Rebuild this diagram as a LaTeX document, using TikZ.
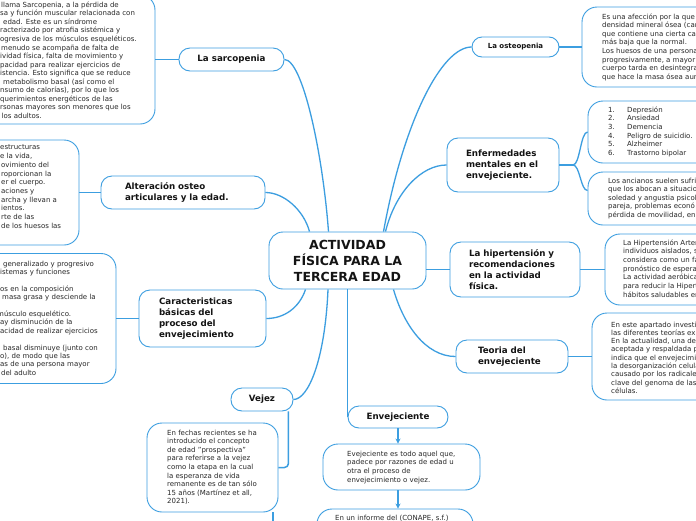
\documentclass[tikz,border=0pt]{standalone}
\usepackage{fontspec}
\setmainfont{DejaVu Sans}
\usetikzlibrary{arrows.meta}
\definecolor{mmblue}{RGB}{60,158,224}
\definecolor{mmtext}{RGB}{20,20,20}
\definecolor{mmsmall}{RGB}{40,40,40}
\begin{document}
\begin{tikzpicture}[x=1pt,y=-1pt,
  mnode/.style={draw=mmblue, line width=0.9pt, rounded corners=11pt, fill=white, text=mmtext, font=\bfseries\fontsize{8.7}{11}\selectfont, inner sep=0pt},
  tbox/.style={draw=mmblue, line width=0.9pt, rounded corners=15pt, fill=white, inner sep=0pt},
  ttext/.style={anchor=north west, inner sep=0pt, align=left, text=mmsmall},
  conn/.style={draw=mmblue, line width=1.3pt},
  link/.style={draw=mmblue, line width=1.8pt},
  arr/.style={draw=mmblue, line width=1.2pt, -{Stealth[length=5pt,width=5pt]}},
]
\useasboundingbox (0,0) rectangle (696,520);
\clip (0,0) rectangle (696,520);
\fill[white] (0,0) rectangle (696,520);

% ---------- text boxes ----------
\node[tbox, minimum width=275pt, minimum height=129pt] (sarcB) at (17.5,59.5) {};
\node[tbox, minimum width=199pt, minimum height=105pt] (altB) at (-20.5,192.5) {};
\node[tbox, minimum width=236pt, minimum height=130pt] (caracB) at (-2,318.5) {};
\node[tbox, minimum width=131pt, minimum height=89pt] (vejezB) at (212.5,467.5) {};
\node[tbox, minimum width=157pt, minimum height=46pt] (envB) at (401.5,467) {};
\node[tbox, minimum width=156pt, minimum height=51pt] (env2B) at (395,534.5) {};
\node[tbox, minimum width=198pt, minimum height=80pt] (osteoB) at (681,47) {};
\node[tbox, minimum width=192pt, minimum height=62pt] (enf1B) at (684,132) {};
\node[tbox, minimum width=192pt, minimum height=53pt] (enf2B) at (684,198.5) {};
\node[tbox, minimum width=175pt, minimum height=71pt] (hipB) at (692.5,269.5) {};
\node[tbox, minimum width=188pt, minimum height=87pt] (teoB) at (686,356.5) {};

% ---------- texts in the boxes ----------
\node[ttext, font=\fontsize{7}{8.54}\selectfont] (sarcT) at (0,1.5) {%
\hspace*{1pt}llama Sarcopenia, a la pérdida de\\
sa y función muscular relacionada con\\
\hspace*{3pt}edad. Este es un síndrome\\
racterizado por atrofia sistémica y\\
ogresiva de los músculos esqueléticos.\\
\hspace*{1pt}menudo se acompaña de falta de\\
ividad física, falta de movimiento y\\
pacidad para realizar ejercicios de\\
istencia. Esto significa que se reduce\\
\hspace*{3pt}metabolismo basal (así como el\\
nsumo de calorías), por lo que los\\
querimientos energéticos de las\\
rsonas mayores son menores que los\\
\hspace*{1.5pt}los adultos.};

\node[ttext, font=\fontsize{7}{8.7}\selectfont] (altT) at (0,144.8) {%
estructuras\\
e la vida,\\
\hspace*{1pt}ovimiento del\\
\hspace*{1pt}roporcionan la\\
\hspace*{1pt}er el cuerpo.\\
\hspace*{1pt}aciones y\\
\hspace*{1pt}archa y llevan a\\
\hspace*{1pt}ientos.\\
\hspace*{1pt}rte de las\\
\hspace*{1pt}de los huesos las};

\node[ttext, font=\fontsize{7}{8.4}\selectfont] (caracT) at (0,260.5) {%
\hspace*{3pt}generalizado y progresivo\\
istemas y funciones\\
~\\
os en la composición\\
\hspace*{2pt}masa grasa y desciende la\\
~\\
\hspace*{-3pt}músculo esquelético.\\
ay disminución de la\\
acidad de realizar ejercicios\\
~\\
\hspace*{3pt}basal disminuye (junto con\\
o), de modo que las\\
as de una persona mayor\\
\hspace*{1pt}del adulto};

\node[ttext, font=\fontsize{7}{8.6}\selectfont] (vejezT) at (167,429.5) {%
En fechas recientes se ha\\
introducido el concepto\\
de edad "prospectiva"\\
para referirse a la vejez\\
como la etapa en la cual\\
la esperanza de vida\\
remanente es de tan sólo\\
15 años (Martínez et all,\\
2021).};

\node[ttext, font=\fontsize{7}{8.7}\selectfont] (envT) at (347,450.5) {%
Evejeciente es todo aquel que,\\
padece por razones de edad u\\
otra el proceso de\\
envejecimiento o vejez.};

\node[ttext, font=\fontsize{7}{8.7}\selectfont] (env2T) at (335,514.5) {En un informe del (CONAPE, s.f.)};

\node[ttext, font=\fontsize{7}{8.6}\selectfont] (osteoT) at (602,13.2) {%
Es una afección por la que\\
densidad mineral ósea (car\\
que contiene una cierta car\\
más baja que la normal.\\
Los huesos de una persona\\
progresivamente, a mayor\\
cuerpo tarda en desintegra\\
que hace la masa ósea aur};

\node[ttext, font=\fontsize{7}{8.6}\selectfont] (enf1T) at (608,106.5) {%
\makebox[19pt][l]{1.}Depresión\\
\makebox[19pt][l]{2.}Ansiedad\\
\makebox[19pt][l]{3.}Demencia\\
\makebox[19pt][l]{4.}Peligro de suicidio.\\
\makebox[19pt][l]{5.}Alzheimer\\
\makebox[19pt][l]{6.}Trastorno bipolar};

\node[ttext, font=\fontsize{7}{8.5}\selectfont] (enf2T) at (608,177.5) {%
Los ancianos suelen sufri\\
que los abocan a situacio\\
soledad y angustia psicol\\
pareja, problemas econó\\
pérdida de movilidad, en};

\node[ttext, font=\fontsize{7}{8.65}\selectfont] (hipT) at (623,239.5) {%
La Hipertensión Arter\\
individuos aislados, s\\
considera como un fa\\
pronóstico de espera\\
La actividad aeróbica\\
para reducir la Hipert\\
hábitos saludables en};

\node[ttext, font=\fontsize{7}{8.3}\selectfont] (teoT) at (611,321.5) {%
En este apartado investi\\
las diferentes teorías exi\\
En la actualidad, una de\\
aceptada y respaldada p\\
indica que el envejecimie\\
la desorganización celula\\
causado por los radicale\\
clave del genoma de las\\
células.};

% ---------- topic nodes ----------
\node[mnode, minimum width=157pt, minimum height=57pt, rounded corners=14pt, align=center,
      font=\bfseries\fontsize{12.5}{16}\selectfont] (cen) at (347.5,260.5)
      {ACTIVIDAD\\FÍSICA PARA LA\\TERCERA EDAD};
\node[mnode, minimum width=105pt, minimum height=23pt] (sarc) at (231.5,59.5) {La sarcopenia};
\node[mnode, minimum width=164pt, minimum height=33pt, text width=116pt, align=left] (alt) at (183,192.5)
      {Alteración osteo\\articulares y la edad.};
\node[mnode, minimum width=127pt, minimum height=57pt, text width=87pt, align=left] (carac) at (202.5,318.5)
      {Caracteristicas\\básicas del\\proceso del\\envejecimiento};
\node[mnode, minimum width=62pt, minimum height=23pt] (vejez) at (262,399.5) {Vejez};
\node[mnode, minimum width=100pt, minimum height=22pt] (env) at (398,417) {Envejeciente};
\node[mnode, minimum width=112pt, minimum height=33pt, text width=68pt, align=left] (teo) at (512,356.5)
      {Teoria del\\envejeciente};
\node[mnode, minimum width=130pt, minimum height=55pt, text width=92pt, align=left] (hip) at (515,269.5)
      {La hipertensión y\\recomendaciones\\en la actividad\\física.};
\node[mnode, minimum width=112pt, minimum height=54pt, text width=74pt, align=left] (enf) at (503,165)
      {Enfermedades\\mentales en el\\envejeciente.};
\node[mnode, minimum width=87pt, minimum height=20pt, rounded corners=10pt,
      font=\bfseries\fontsize{7}{9}\selectfont] (osteo) at (515.5,47) {La osteopenia};

% ---------- connectors from the centre ----------
\draw[conn] ([xshift=-19pt]cen.north) .. controls +(-6,-80) and +(18,0) .. (sarc.east);
\draw[conn] ([xshift=-38pt]cen.north) .. controls +(-6,-22) and +(18,0) .. (alt.east);
\draw[conn] ([xshift=-42pt]cen.south) .. controls +(-6,18) and +(18,0) .. (carac.east);
\draw[conn] ([xshift=-19.5pt]cen.south) .. controls +(-3,70) and +(15,0) .. (vejez.east);
\draw[conn] (cen.south -| env.west) -- (env.west);
\draw[conn] ([xshift=46pt]cen.south) .. controls +(10,35) and +(-30,0) .. (teo.west);
\draw[conn] (hip.west -| cen.east) -- (hip.west);
\draw[conn] ([xshift=38pt]cen.north) .. controls +(10,-40) and +(-25,0) .. (enf.west);
\draw[conn] ([xshift=36pt]cen.north) .. controls +(20,-110) and +(-30,0) .. (osteo.west);

% ---------- links topic -> text ----------
\draw[link] (sarc.west) -- (sarc.west -| sarcB.east);
\draw[link] (alt.west) -- (alt.west -| altB.east);
\draw[link] (carac.west) -- (carac.west -| caracB.east);
\draw[link] (osteo.east) -- (osteo.east -| osteoB.west);
\draw[link] (hip.east) -- (hip.east -| hipB.west);
\draw[link] (teo.east) -- (teo.east -| teoB.west);
\coordinate (enfFork) at (573,165);
\draw[link] (enf.east) -- (enfFork);
\draw[conn] (enfFork) .. controls +(7,0) and +(-7,0) .. (enf1B.west);
\draw[conn] (enfFork) .. controls +(7,0) and +(-7,0) .. ([yshift=8pt]enf2B.west);
\draw[draw=mmblue, line width=1.5pt, rounded corners=4pt] ([xshift=-5pt]vejez.south east) |- (vejezB.east);
\coordinate (vejDown) at (273,545);
\draw[draw=mmblue, line width=1.5pt] (vejDown |- vejezB.south) -- (vejDown);
\draw[arr] (env.south) -- (env.south |- envB.north);
\draw[arr] (env.south |- envB.south) -- (env.south |- env2B.north);
\end{tikzpicture}
\end{document}
